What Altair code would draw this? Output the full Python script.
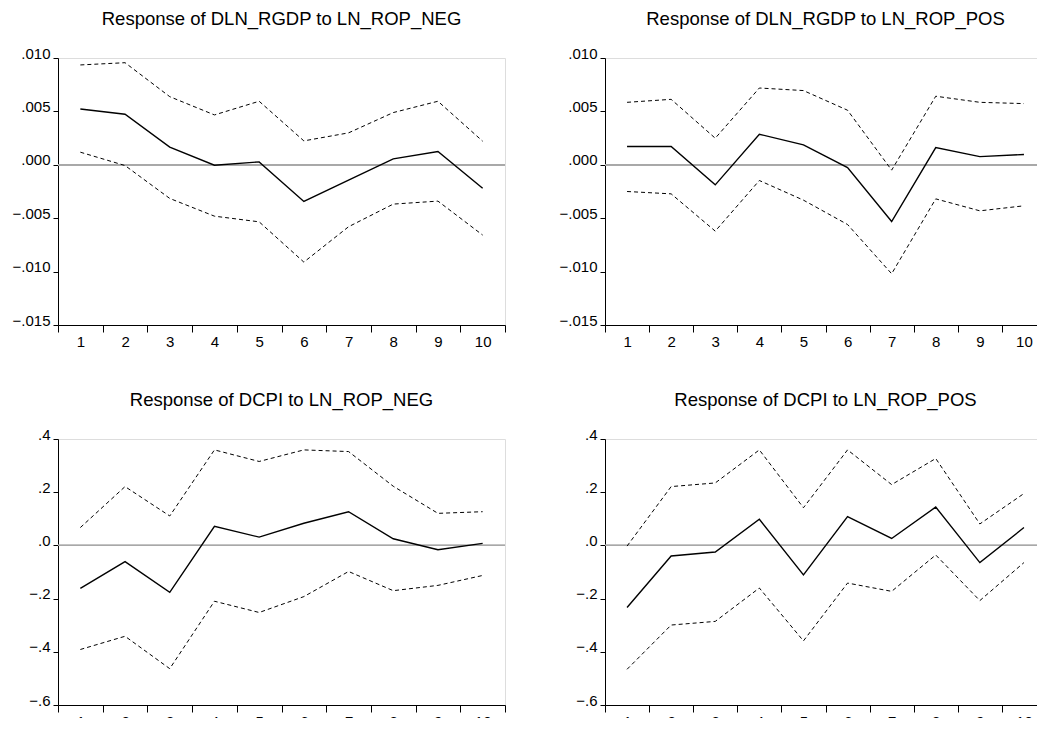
import altair as alt
import pandas as pd

horizons = [1, 2, 3, 4, 5, 6, 7, 8, 9, 10]

titles = [
    "Response of DLN_RGDP to LN_ROP_NEG",
    "Response of DLN_RGDP to LN_ROP_POS",
    "Response of DCPI to LN_ROP_NEG",
    "Response of DCPI to LN_ROP_POS",
]

# DLN_RGDP to LN_ROP_NEG
gdp_neg_mid = [0.00523, 0.00473, 0.00165, -0.00004, 0.00027, -0.00343, -0.00144, 0.00055, 0.00124, -0.00219]
gdp_neg_hi = [0.00935, 0.00956, 0.00638, 0.00467, 0.00595, 0.00224, 0.00299, 0.00489, 0.00595, 0.00221]
gdp_neg_lo = [0.00118, -0.00007, -0.00315, -0.00481, -0.00534, -0.00911, -0.00580, -0.00368, -0.00340, -0.00658]

# DLN_RGDP to LN_ROP_POS
gdp_pos_mid = [0.00171, 0.00171, -0.00188, 0.00286, 0.00186, -0.00026, -0.00531, 0.00161, 0.00077, 0.00096]
gdp_pos_hi = [0.00585, 0.00613, 0.00249, 0.00719, 0.00695, 0.00511, -0.00050, 0.00642, 0.00585, 0.00573]
gdp_pos_lo = [-0.00250, -0.00272, -0.00621, -0.00147, -0.00331, -0.00559, -0.01020, -0.00319, -0.00431, -0.00384]

# DCPI to LN_ROP_NEG
cpi_neg_mid = [-0.1615, -0.0609, -0.1764, 0.0720, 0.0311, 0.0832, 0.1267, 0.0248, -0.0161, 0.0075]
cpi_neg_hi = [0.0671, 0.2211, 0.1106, 0.3590, 0.3155, 0.3590, 0.3528, 0.2224, 0.1205, 0.1267]
cpi_neg_lo = [-0.3913, -0.3416, -0.4634, -0.2099, -0.2522, -0.1925, -0.0981, -0.1702, -0.1503, -0.1130]

# DCPI to LN_ROP_POS
cpi_pos_mid = [-0.2335, -0.0398, -0.0248, 0.0981, -0.1106, 0.1081, 0.0261, 0.1441, -0.0646, 0.0671]
cpi_pos_hi = [-0.0025, 0.2211, 0.2348, 0.3590, 0.1416, 0.3590, 0.2286, 0.3267, 0.0807, 0.1950]
cpi_pos_lo = [-0.4658, -0.2994, -0.2857, -0.1602, -0.3590, -0.1416, -0.1727, -0.0360, -0.2075, -0.0646]

gdp_ticks = [-0.015, -0.010, -0.005, 0.000, 0.005, 0.010]
cpi_ticks = [-0.6, -0.4, -0.2, 0.0, 0.2, 0.4]

FONT = "Liberation Sans"


def panel(title, mid, hi, lo, ticks, fmt, w, h):
    df = pd.DataFrame({"h": horizons, "mid": mid, "hi": hi, "lo": lo})
    long = df.melt(id_vars="h", value_vars=["hi", "lo"], var_name="band", value_name="v")
    xenc = alt.X(
        "h:O",
        scale=alt.Scale(type="band", paddingInner=0, paddingOuter=0),
        bandPosition=0.5,
        axis=alt.Axis(
            title=None, labelAngle=0, tickBand="extent", tickSize=7,
            labelPadding=2, labelFontSize=15, labelFont=FONT, labelColor="black",
            domainColor="black", tickColor="black", grid=False,
        ),
    )
    yscale = alt.Scale(domain=[ticks[0], ticks[-1]], nice=False, zero=False)
    yaxis = alt.Axis(
        title=None, values=ticks, labelExpr="replace(format(datum.value, '%s'), '0.', '.')" % fmt,
        tickSize=5, labelPadding=3, labelFontSize=15, labelFont=FONT, labelColor="black",
        labelBaseline="alphabetic", domainColor="black", tickColor="black", grid=False,
    )
    base = alt.Chart(df)
    zero = base.mark_rule(color="#a8a8a8", strokeWidth=1).encode(y=alt.datum(0, scale=yscale))
    mid_line = base.mark_line(color="black", strokeWidth=1.4).encode(
        x=xenc, y=alt.Y("mid:Q", scale=yscale, axis=yaxis)
    )
    band_lines = alt.Chart(long).mark_line(color="black", strokeWidth=1, strokeDash=[4, 3]).encode(
        x=xenc, y=alt.Y("v:Q", scale=yscale, axis=yaxis), detail="band:N"
    )
    return alt.layer(zero, band_lines, mid_line).properties(
        width=w, height=h,
        title=alt.TitleParams(
            title, font=FONT, fontSize=18.5, fontWeight="normal", color="black",
            anchor="middle", frame="group", baseline="alphabetic", offset=3,
        ),
    )


p1 = panel(titles[0], gdp_neg_mid, gdp_neg_hi, gdp_neg_lo, gdp_ticks, ".3f", 447, 267)
p2 = panel(titles[1], gdp_pos_mid, gdp_pos_hi, gdp_pos_lo, gdp_ticks, ".3f", 441, 267)
p3 = panel(titles[2], cpi_neg_mid, cpi_neg_hi, cpi_neg_lo, cpi_ticks, ".1f", 447, 266)
p4 = panel(titles[3], cpi_pos_mid, cpi_pos_hi, cpi_pos_lo, cpi_ticks, ".1f", 441, 266)

chart = alt.concat(p1, p2, p3, p4, columns=2, spacing=alt.RowColnumber(row=40, column=52)).properties(
    padding={"left": 3, "top": 1, "right": -10, "bottom": -12}
).configure_view(stroke="black", strokeWidth=1).configure(background="white")

chart.save("out.html", embed_options={"renderer": "svg", "actions": False})
